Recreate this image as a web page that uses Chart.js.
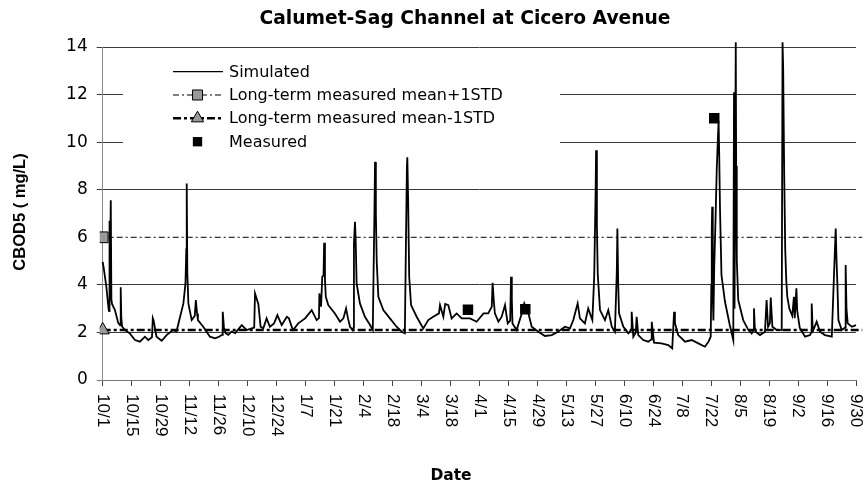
<!DOCTYPE html>
<html><head><meta charset="utf-8">
<script src="https://cdn.jsdelivr.net/npm/chart.js@4.4.1/dist/chart.umd.min.js"></script>
<style>html,body{margin:0;padding:0;background:#fff;}#wrap{width:865px;height:484px;}</style>
</head><body><div id="wrap"><canvas id="c" width="865" height="484"></canvas></div>
<script>
const chartTitle = 'Calumet-Sag Channel at Cicero Avenue';
const yAxisTitle = 'CBOD5 ( mg/L)';
const xAxisTitle = 'Date';
const seriesNames = ['Simulated', 'Long-term measured mean+1STD', 'Long-term measured mean-1STD', 'Measured'];
const yTicks = [0, 2, 4, 6, 8, 10, 12, 14];
const tickDays = [0, 14, 28, 42, 56, 70, 84, 98, 112, 126, 140, 154, 168, 182, 196, 210, 224, 238, 252, 266, 280, 294, 308, 322, 336, 350, 364];
const tickLabels = ['10/1','10/15','10/29','11/12','11/26','12/10','12/24','1/7','1/21','2/4','2/18','3/4','3/18','4/1','4/15','4/29','5/13','5/27','6/10','6/24','7/8','7/22','8/5','8/19','9/2','9/16','9/30'];

const simDays = [
  0, 0.5, 1.1, 1.8, 2.4, 2.9, 3.1, 3.2, 3.4, 3.9, 4.2, 4.5, 5.9, 7.5, 8.4, 8.7, 9.0, 9.4, 10.8, 13,
  15.6, 18, 20.4, 22, 23.8, 24.2, 24.6, 26, 28.5, 31, 34, 35.7, 37.4, 39, 40, 40.4, 40.6, 40.9, 41.4, 43,
  44.5, 45, 45.6, 46, 48.6, 51.8, 54.3, 56.2, 57.7, 58, 58.6, 59.4, 60.7, 62.3, 64, 67.2, 69.6, 72, 73.2, 73.6,
  75.2, 76.3, 77.6, 79.2, 80.8, 82.8, 84.4, 86.5, 89, 90, 91.3, 92, 94.5, 97.8, 101, 103.4, 104.5, 104.7, 105.5, 106.1,
  106.7, 107, 107.4, 107.8, 109, 112.2, 114.7, 116.3, 117.6, 118.5, 119.5, 120.8, 121.2, 121.4, 121.9, 122.2, 122.7, 124.3, 126.7, 129.2,
  130.5, 130.8, 131.3, 131.6, 132, 132.4, 133.2, 135.6, 138.8, 142, 144.5, 146, 146.4, 147, 147.2, 147.6, 148.1, 149, 151.7, 154.9,
  157.3, 159.7, 162.5, 163, 164.6, 165.5, 167, 168.6, 171, 173.5, 177.5, 180.7, 184, 186.3, 188, 188.4, 189, 189.5, 191.2, 192.8,
  194.4, 195.7, 196.9, 197.3, 197.7, 198, 200, 202.5, 203.7, 205.7, 207.3, 210.5, 213.7, 217, 220, 223.4, 225.8, 227.4, 229.5, 230.6,
  233, 234.6, 236.6, 237.5, 238.2, 238.4, 238.8, 239.2, 240.3, 242.7, 244.3, 246, 247.5, 248.4, 248.7, 249.1, 249.5, 251.6, 254, 255.4,
  255.6, 256.4, 257.6, 258, 258.8, 261.2, 263.6, 265, 265.3, 266.4, 270, 273.3, 275.2, 276.1, 276.5, 278.1, 281.4, 284.6, 287.8, 291,
  292.7, 293.8, 294.1, 294.3, 294.5, 294.8, 295.1, 295.5, 296.2, 296.7, 297.2, 297.6, 297.9, 298.3, 299, 300.7, 303, 304.7, 305.05, 305.3,
  305.9, 306.1, 306.4, 307.1, 309.5, 312, 313.6, 314.4, 314.7, 315.1, 315.5, 317.6, 320, 320.8, 321.5, 322.4, 322.8, 323.6, 325.7, 328.1,
  328.5, 328.8, 329.3, 329.8, 330.3, 330.8, 331.8, 333.2, 334.0, 334.4, 335.2, 335.6, 336.8, 339.4, 341.8, 342.4, 342.6, 343, 343.4, 345,
  346.6, 349, 352.3, 353.4, 354.2, 354.6, 355, 355.5, 357.1, 358.7, 359, 359.4, 360, 362, 364
];
const simValues = [
  4.97, 4.7, 4.34, 3.9, 3.36, 2.94, 2.9, 6.7, 3.0, 7.56, 3.4, 3.2, 2.94, 2.4, 2.3, 3.9, 2.6, 2.24, 2.1, 1.97,
  1.68, 1.61, 1.82, 1.68, 1.8, 2.6, 2.5, 1.82, 1.65, 1.9, 2.1, 2.05, 2.66, 3.22, 4.07, 5.5, 8.26, 4.5, 3.22, 2.52,
  2.7, 3.36, 2.8, 2.52, 2.24, 1.82, 1.75, 1.82, 1.9, 2.87, 2.2, 1.97, 1.9, 2.04, 1.97, 2.31, 2.1, 2.17, 2.2, 3.64,
  3.2, 2.24, 2.17, 2.59, 2.24, 2.38, 2.73, 2.31, 2.66, 2.59, 2.24, 2.1, 2.38, 2.59, 2.94, 2.52, 2.6, 3.64, 3.08, 4.34,
  4.4, 5.77, 4.2, 3.5, 3.15, 2.8, 2.45, 2.59, 3.01, 2.6, 2.24, 2.1, 2.2, 5.74, 6.65, 6.0, 4.06, 3.22, 2.66, 2.31,
  2.1, 3.92, 7.0, 9.17, 7.0, 5.0, 3.5, 2.94, 2.59, 2.24, 2.03, 1.96, 4.83, 9.0, 9.36, 7.5, 4.34, 3.15, 2.66, 2.17,
  2.52, 2.66, 2.8, 3.15, 2.66, 3.2, 3.15, 2.59, 2.8, 2.59, 2.59, 2.45, 2.8, 2.8, 3.08, 4.09, 3.3, 2.8, 2.45, 2.66,
  3.15, 2.38, 2.5, 4.34, 3.4, 2.38, 2.1, 2.8, 3.22, 2.8, 2.24, 2.03, 1.85, 1.89, 2.03, 2.24, 2.17, 2.52, 3.22, 2.59,
  2.38, 3.01, 2.52, 4.34, 8.0, 9.66, 6.5, 4.48, 2.94, 2.52, 2.94, 2.24, 2.03, 4.5, 6.37, 4.0, 2.8, 2.24, 1.96, 2.1,
  2.87, 1.82, 2.0, 2.66, 1.89, 1.68, 1.61, 1.7, 2.45, 1.57, 1.54, 1.47, 1.33, 2.87, 2.4, 1.89, 1.61, 1.68, 1.54, 1.4,
  1.61, 1.82, 4.0, 6.3, 7.28, 3.5, 2.5, 4.76, 7.0, 8.82, 10.0, 10.9, 9.5, 7.14, 4.41, 3.29, 2.31, 1.68, 12.1, 3.0,
  14.2, 9.0, 5.04, 3.36, 2.52, 2.1, 1.96, 2.1, 3.01, 2.2, 2.03, 1.89, 2.03, 3.36, 2.24, 2.4, 3.47, 2.24, 2.1, 2.1,
  14.2, 13.2, 8.7, 5.5, 4.2, 3.5, 3.0, 2.7, 3.5, 2.6, 3.86, 2.9, 2.2, 1.82, 1.89, 2.0, 3.22, 2.3, 2.1, 2.45,
  2.03, 1.89, 1.82, 4.5, 6.37, 5.0, 4.06, 2.52, 2.1, 2.2, 4.83, 3.0, 2.38, 2.24, 2.31
];
const plusDays = [0, 367];
const plusValues = [6.0, 6.0];
const minusDays = [0, 367];
const minusValues = [2.1, 2.1];
const measDays = [176.5, 204.2, 295.5];
const measValues = [2.95, 2.97, 11.0];

function pts(xs, ys) { return xs.map((d, i) => ({ x: d, y: ys[i] })); }

const decor = {
  id: 'decor',
  afterDraw(chart) {
    const ctx = chart.ctx;
    const xs = chart.scales.x;
    ctx.save();
    ctx.fillStyle = '#000';
    ctx.font = 'bold 18.7px "DejaVu Sans"';
    ctx.textAlign = 'center'; ctx.textBaseline = 'middle';
    ctx.fillText(chartTitle, 465, 19);
    ctx.font = 'bold 15.5px "DejaVu Sans"';
    ctx.fillText(xAxisTitle, 451, 476);
    ctx.save();
    ctx.translate(20, 212);
    ctx.rotate(-Math.PI / 2);
    ctx.font = 'bold 16.5px "Liberation Sans"';
    ctx.fillText(yAxisTitle, 0, 0);
    ctx.restore();
    ctx.font = '17px "Liberation Sans"';
    ctx.textAlign = 'left'; ctx.textBaseline = 'middle';
    tickDays.forEach((d, i) => {
      const px = xs.getPixelForValue(d);
      ctx.save();
      ctx.translate(px, 394);
      ctx.rotate(Math.PI / 2);
      ctx.fillText(tickLabels[i], 0, 0);
      ctx.restore();
    });
    ctx.fillStyle = '#fff';
    ctx.fillRect(123, 57, 437, 98);
    const rows = [71.7, 95, 118.3, 141.7];
    const x0 = 173, x1 = 223, xm = 197.5;
    const ds = chart.data.datasets;
    for (let i = 0; i < 4; i++) {
      const d = ds[i], y = rows[i];
      if (i < 3) {
        ctx.save();
        ctx.strokeStyle = d.borderColor;
        ctx.lineWidth = i === 0 ? 1.2 : d.borderWidth;
        ctx.setLineDash(d.borderDash || []);
        ctx.beginPath(); ctx.moveTo(x0, y); ctx.lineTo(x1, y); ctx.stroke();
        ctx.restore();
      }
      if (i > 0) {
        ctx.save();
        ctx.fillStyle = Array.isArray(d.pointBackgroundColor) ? d.pointBackgroundColor[0] : d.pointBackgroundColor;
        ctx.strokeStyle = '#000';
        ctx.lineWidth = 1;
        const r = i === 3 ? 6.6 : 7.1;
        Chart.helpers.drawPoint(ctx, { pointStyle: d.pointStyle, radius: r, rotation: 0, borderWidth: i === 3 ? 0 : 1 }, xm, y);
        ctx.restore();
      }
      ctx.fillStyle = '#000';
      ctx.font = '16px "DejaVu Sans"';
      ctx.textAlign = 'left'; ctx.textBaseline = 'middle';
      ctx.fillText(seriesNames[i], 229, y + 1);
    }
    ctx.restore();
  }
};

const clipBox = { left: 3, top: 10, right: 10, bottom: 3 };

new Chart(document.getElementById('c'), {
  type: 'line',
  data: {
    datasets: [
      { label: seriesNames[0], data: pts(simDays, simValues), borderColor: '#000', borderWidth: 1.8,
        pointRadius: 0, tension: 0, clip: clipBox, order: 2 },
      { label: seriesNames[1], data: pts(plusDays, plusValues), borderColor: '#000', borderWidth: 1,
        borderDash: [6, 3, 2, 3], pointStyle: 'rect', pointRadius: [7.6, 0], pointBackgroundColor: '#999999',
        pointBorderColor: '#000', pointBorderWidth: 1, clip: clipBox, order: 1 },
      { label: seriesNames[2], data: pts(minusDays, minusValues), borderColor: '#000', borderWidth: 2.4,
        borderDash: [8, 3, 3, 3], pointStyle: 'triangle', pointRadius: [7.6, 0], pointBackgroundColor: '#999999',
        pointBorderColor: '#000', pointBorderWidth: 1, clip: clipBox, order: 1 },
      { label: seriesNames[3], data: pts(measDays, measValues), showLine: false, pointStyle: 'rect',
        pointRadius: 7.4, pointBackgroundColor: '#000', pointBorderColor: '#000', pointBorderWidth: 0, clip: clipBox, order: 0 }
    ]
  },
  options: {
    responsive: false, animation: false, events: [],
    layout: { padding: { top: 47, right: 9, left: 0, bottom: 0 } },
    plugins: { legend: { display: false }, title: { display: false }, tooltip: { enabled: false } },
    scales: {
      x: {
        type: 'linear', min: 0, max: 364,
        afterBuildTicks: s => { s.ticks = tickDays.map(v => ({ value: v })); },
        afterFit: s => { s.height = 104; },
        ticks: { display: false },
        grid: { drawOnChartArea: false, drawTicks: true, tickLength: 6, color: '#444' },
        border: { color: '#777', width: 1 }
      },
      y: {
        min: 0, max: 14,
        afterBuildTicks: s => { s.ticks = yTicks.map(v => ({ value: v })); },
        afterFit: s => { s.width = 102.7; },
        ticks: { padding: 9, color: '#000', font: { family: 'DejaVu Sans', size: 17 } },
        grid: { tickLength: 6, color: c => (c.tick && c.tick.value === 6) ? 'rgba(0,0,0,0)' : (c.tick && c.tick.value === 0 ? '#777' : '#3a3a3a') },
        border: { color: '#888', width: 1 }
      }
    }
  },
  plugins: [decor]
});
</script>
</body></html>
